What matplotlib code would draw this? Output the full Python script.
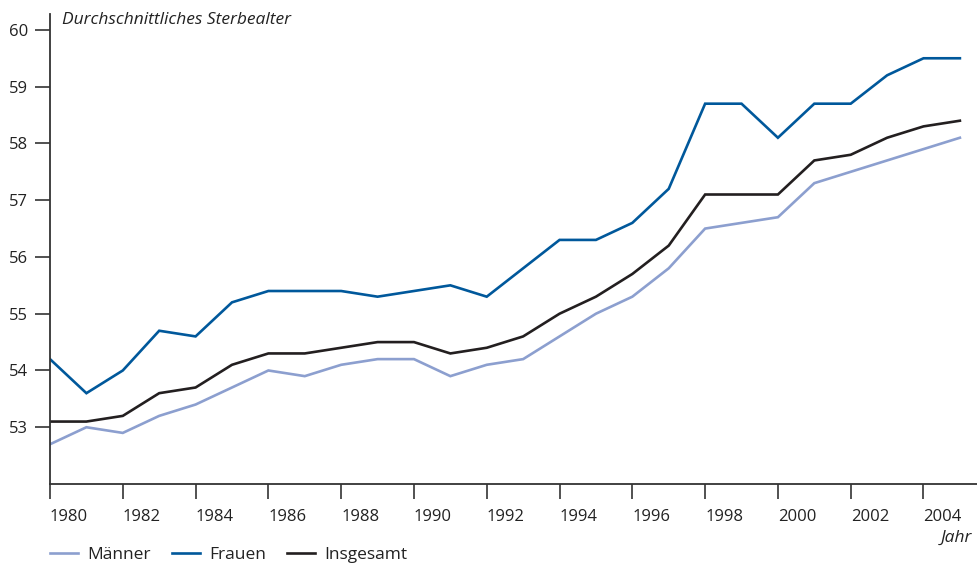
import matplotlib
matplotlib.use("Agg")
import matplotlib.pyplot as plt

years = list(range(1980, 2006))
maenner = [52.7, 53.0, 52.9, 53.2, 53.4, 53.7, 54.0, 53.9, 54.1, 54.2, 54.2, 53.9, 54.1,
           54.2, 54.6, 55.0, 55.3, 55.8, 56.5, 56.6, 56.7, 57.3, 57.5, 57.7, 57.9, 58.1]
frauen = [54.2, 53.6, 54.0, 54.7, 54.6, 55.2, 55.4, 55.4, 55.4, 55.3, 55.4, 55.5, 55.3,
          55.8, 56.3, 56.3, 56.6, 57.2, 58.7, 58.7, 58.1, 58.7, 58.7, 59.2, 59.5, 59.5]
insgesamt = [53.1, 53.1, 53.2, 53.6, 53.7, 54.1, 54.3, 54.3, 54.4, 54.5, 54.5, 54.3, 54.4,
             54.6, 55.0, 55.3, 55.7, 56.2, 57.1, 57.1, 57.1, 57.7, 57.8, 58.1, 58.3, 58.4]
series_names = ["Männer", "Frauen", "Insgesamt"]
colors = ["#8c9fcf", "#00589b", "#231f20"]
xticks = list(range(1980, 2006, 2))
yticks = list(range(53, 61))

plt.rcParams['font.family'] = ['Open Sans', 'DejaVu Sans']

W, H = 977, 565
fig = plt.figure(figsize=(W / 100, H / 100), dpi=100)
ax = fig.add_axes([50 / W, (H - 484) / H, (W - 50) / W, (484 - 14) / H])

for vals, name, c in zip([maenner, frauen, insgesamt], series_names, colors):
    ax.plot(years, vals, color=c, lw=1.9, label=name, solid_joinstyle='miter')

ax.set_xlim(1980, 2005.47)
ax.set_ylim(52, 60.28)
ax.set_xticks(xticks)
ax.set_yticks(yticks)
ax.tick_params(axis='both', direction='out', length=11, width=1.2, color='#333333',
               labelsize=12, labelcolor='#222222')
ax.tick_params(axis='y', pad=5)
ax.tick_params(axis='x', pad=7)
for lbl in ax.get_xticklabels():
    lbl.set_horizontalalignment('left')
for s in ['top', 'right']:
    ax.spines[s].set_visible(False)
for s in ['left', 'bottom']:
    ax.spines[s].set_color('#333333')
    ax.spines[s].set_linewidth(1.3)

fig.text(62 / W, 1 - 20 / H, "Durchschnittliches Sterbealter", style='italic',
         fontsize=12.5, color='#222222', ha='left', va='center')
fig.text(972 / W, 1 - 538 / H, "Jahr", style='italic', fontsize=12.5, color='#222222',
         ha='right', va='center')

leg = fig.legend(loc='lower left', bbox_to_anchor=(38 / W, -0.018), ncol=3, frameon=False,
                 fontsize=12.5, handlelength=1.6, columnspacing=1.2, handletextpad=0.55,
                 borderaxespad=0.3)
for t in leg.get_texts():
    t.set_color('#222222')

fig.savefig("out.png", dpi=100)
